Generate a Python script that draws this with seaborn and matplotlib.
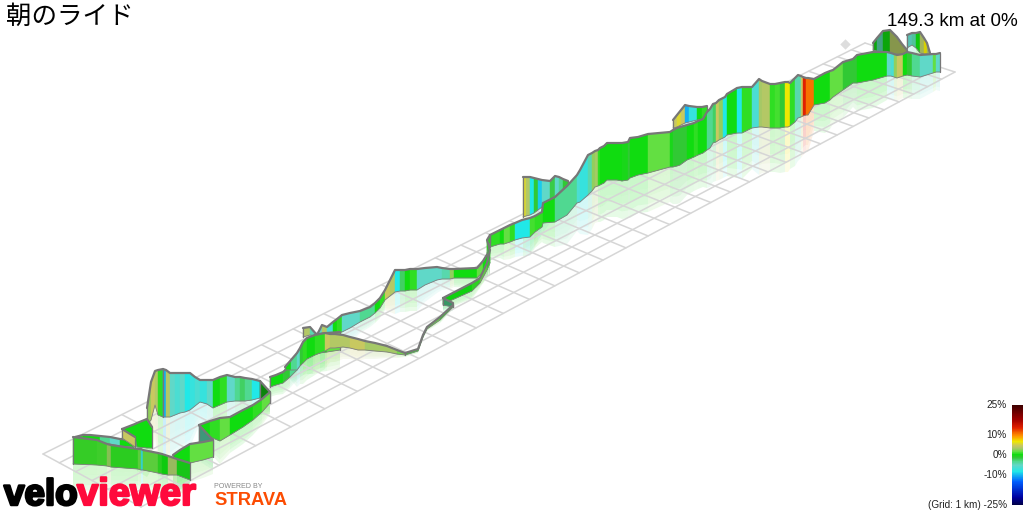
import numpy as np
import matplotlib
matplotlib.use('Agg')
import matplotlib.pyplot as plt
import matplotlib.patheffects as pe
from matplotlib.colors import LinearSegmentedColormap, to_rgb
import seaborn as sns

title = '朝のライド'
summary = '149.3 km at 0%'
scale_values = [25, 10, 0, -10]

# grid corners: left, near, right, far
grid_left = (43, 454)
grid_near = (141, 507)
grid_right = (955, 72)
grid_far = (865, 43)
grid_long = 35
grid_wide = 6
grid_depth = 1.75

# gradient colours, from the scale
grad_stops = [-25, -21, -13, -8, -5, -3, -1, 0.5, 2, 3.5, 5, 7, 10, 14, 18, 25]
grad_colors = ['#000040', '#0000a0', '#0060ff', '#20e8e8', '#60d8c8', '#50d890', '#30c830', '#10dc10',
               '#60e040', '#a8c868', '#c8c860', '#f0e800', '#ff9000', '#e02000', '#a00000', '#400000']

# walls in drawing order: x, top, bottom, gradient per stripe
up1_x = [873, 877, 883, 890, 897, 902, 907]
up1_top = [43, 38, 31, 30, 37, 44, 50]
up1_bot = [50, 51, 52, 53, 54, 55, 52]
up1_grad = [0.5, -4, 0.5, 4, 4, 4]

up2_x = [907, 912, 916, 920, 924, 927, 930]
up2_top = [35, 33, 33, 32, 38, 43, 53]
up2_bot = [48, 45, 48, 53, 54, 54, 55]
up2_grad = [-5, -4, 0.5, 4, 7, 4]

back1_x = [673, 677, 681, 685, 689, 697, 702, 707]
back1_top = [120, 115, 110, 105, 106, 107, 107, 106]
back1_bot = [128, 127, 125, 123, 122, 120, 119, 118]
back1_grad = [5, 6, 5, -10, -7, 0.5, 1]

back2_x = [523, 526, 530, 534, 538, 542, 550, 555, 559, 563, 568]
back2_top = [177, 177, 177, 178, 179, 180, 181, 176, 177, 179, 181]
back2_bot = [217, 216, 215, 213, 210, 207, 202, 197, 193, 189, 185]
back2_grad = [6, 4, -8, -1, -9, -5, -1.5, -5, -3, -1]

main_x = [490, 500, 504, 510, 515, 522, 530, 535, 542, 543, 555, 567, 577, 580, 588, 592, 595, 598, 600, 604, 607,
          617, 622, 628, 630, 638, 648, 670, 673, 677, 680, 687, 694, 698, 703, 707, 710, 713, 716, 719, 723, 725,
          727, 732, 737, 742, 752, 759, 762, 770, 775, 780, 785, 788, 790, 795, 798, 801, 803, 806, 808, 814, 825,
          830, 833, 843, 853, 857, 873, 887, 891, 894, 897, 903, 907, 912, 920, 933, 936, 940]
main_top = [235, 230, 228, 225, 223, 220, 218, 216, 212, 203, 197, 186, 175, 170, 155, 153, 151, 150, 148, 146, 143,
            143, 143, 142, 138, 137, 134, 132, 130, 128, 127, 125, 123, 121, 119, 112, 109, 104, 103, 100, 98, 97,
            94, 91, 88, 87, 87, 79, 81, 84, 84, 83, 82, 82, 83, 78, 75, 76, 77, 78, 78, 79, 73,
            71, 70, 62, 59, 55, 52, 52, 53, 54, 55, 54, 52, 53, 55, 54, 54, 53]
main_bot = [247, 244, 244, 242, 240, 238, 237, 232, 227, 223, 222, 215, 203, 202, 195, 191, 187, 186, 185, 183, 180,
            180, 181, 180, 178, 175, 173, 167, 167, 166, 165, 160, 157, 155, 153, 150, 148, 143, 142, 140, 138, 137,
            135, 134, 133, 133, 128, 127, 127, 128, 128, 128, 127, 127, 126, 122, 118, 117, 116, 115, 115, 105, 103,
            100, 97, 90, 83, 83, 80, 76, 76, 77, 78, 76, 75, 76, 77, 73, 72, 72]
main_grad = [1, 0.5, 2, 1, -8, -8, 1.5, 1, 1, 0.5, -3, -3, -6, -7, -4, 3, 3.5, 1, 0.5,
             0.5, 0.5, 0.5, 0, -1, 0.5, 0.5, 2, 0, -1, -1, -1, 0.5, 1, 0.5, 0.5,
             -3, -3, -2, 5, 3, -8, -8, 0.5, 0.5, -8, 1, -6, 3.5, 4, 1, 1.5, -1, 7, 7, 1, -4, -4,
             5, 14, 11, 11, 0.5, 0.5, 2, 2, -1, -1, 0.5, 0.5, -5, -6, 3, 5, 0.5, -1, -3, -5, 2, -5]

top_mid_x = [303, 310, 317, 322, 327, 333, 337, 342, 350, 360, 370, 375, 380, 385, 390, 395, 400, 405, 410, 417, 425, 437, 442, 450, 454, 477, 483, 488]
top_mid_top = [328, 327, 335, 325, 327, 322, 319, 315, 313, 311, 307, 303, 298, 290, 280, 270, 270, 270, 269, 269, 268, 267, 268, 269, 269, 268, 261, 253]
top_mid_bot = [337, 335, 336, 335, 333, 335, 333, 332, 328, 322, 317, 313, 308, 300, 296, 292, 291, 291, 290, 290, 285, 280, 279, 279, 278, 278, 272, 265]
top_mid_grad = [4, -4, -5, 4, -6, 0.5, 1, -5, -5, -3, -3, 0.5, 1, 5, 4, -8, -2, 0.5, 1, -5, -5, -5, -4, 3, 0.5, 2, 0.5]

low_mid_x = [443, 472, 480, 487, 490, 487, 490]
low_mid_top = [298, 283, 278, 263, 250, 240, 235]
low_mid_bot = [304, 291, 283, 270, 263, 253, 243]
low_mid_grad = [0.5, 1, 2, 1, -1, 1]

hook_x = [443, 453]
hook_top = [298, 303]
hook_bot = [305, 307]
hook_grad = [-3]

thin_x = [405, 418, 423, 427, 440, 453]
thin_top = [353, 349, 335, 327, 317, 305]
thin_bot = [355, 351, 337, 329, 320, 307]
thin_grad = [1, 1, 1, 2, 1]

ramp_x = [285, 291, 297, 300, 303, 307, 315, 325, 330, 335, 343, 350, 358, 365, 375, 387, 397, 405]
ramp_top = [367, 360, 353, 348, 342, 338, 335, 333, 334, 334, 335, 337, 339, 341, 343, 346, 350, 353]
ramp_bot = [370, 370, 370, 366, 363, 359, 355, 351, 348, 348, 347, 348, 350, 350, 351, 352, 354, 355]
ramp_grad = [0.5, -3, -5, -1, 1, 0.5, 1, 5, 4, 4, 4, 5, 5, 3.5, 3.5, 3.5, 2.5]

link_x = [270, 276, 283, 290, 297, 303, 307, 313, 320, 327, 340]
link_top = [377, 375, 372, 366, 360, 347, 340, 336, 334, 333, 332]
link_bot = [387, 385, 383, 377, 370, 361, 357, 355, 353, 352, 350]
link_grad = [0.5, 0.5, -1, -3, -5, 1, 0.5, 3, 0.5, 2]

far_left_x = [75, 83, 90, 100, 110, 120, 133]
far_left_top = [437, 435, 435, 436, 437, 439, 440]
far_left_bot = [438, 439, 441, 443, 444, 446, 447]
far_left_grad = [1, 0.5, 0.5, -3, -5, 0.5]

spine_x = [122, 135, 137, 147, 152]
spine_top = [429, 424, 423, 419, 427]
spine_bot = [429, 437, 447, 448, 448]
spine_grad = [0.5, 0.5, 0.5, 0.5]

spine_side_x = [122, 135]
spine_side_top = [429, 437]
spine_side_bot = [438, 447]
spine_side_grad = [5]

cliff_x = [147, 151, 155, 158, 163]
cliff_top = [408, 382, 371, 370, 369]
cliff_bot = [425, 420, 405, 415, 417]
cliff_grad = [3, 5, 4, 1]

bay_x = [163, 166, 170, 175, 180, 185, 190, 195, 200, 207, 213, 220, 227, 235, 240, 245, 252, 260]
bay_top = [369, 370, 373, 373, 373, 373, 373, 377, 380, 380, 380, 377, 375, 377, 377, 378, 379, 381]
bay_bot = [417, 417, 417, 415, 413, 412, 410, 406, 402, 404, 408, 405, 402, 401, 401, 401, 400, 398]
bay_grad = [-10, 4, -5, -6, -5, -8, -7, -6, -7, -5, 0.5, 1, -5, -3, -2, -3, -8]

side_x = [199, 213]
side_top = [425, 440]
side_bot = [443, 455]
side_grad = [-4]

corner_x = [260, 270]
corner_top = [381, 392]
corner_bot = [398, 403]
corner_grad = [0.5]

spur_x = [199, 210, 220, 230, 243, 253, 262, 270]
spur_top = [425, 421, 418, 417, 410, 405, 399, 392]
spur_bot = [426, 437, 441, 435, 427, 420, 412, 403]
spur_grad = [0.5, 1, 2, 0.5, 0.5, 1, 2]

tip_x = [173, 180, 190, 203, 213]
tip_top = [455, 450, 444, 442, 440]
tip_bot = [473, 470, 463, 460, 457]
tip_grad = [0.5, 0.5, 2, 2]

front_x = [73, 97, 107, 111, 138, 141, 143, 158, 162, 168, 177, 190]
front_top = [437, 440, 444, 445, 449, 449, 450, 453, 454, 456, 459, 463]
front_bot = [464, 465, 466, 467, 469, 470, 470, 473, 474, 475, 475, 480]
front_grad = [1.2, 1.5, 3, 1, 2, -7, 2, 1, 0.5, 3.5, 0]

walls = [
    (up1_x, up1_top, up1_bot, up1_grad, 0.75),
    (up2_x, up2_top, up2_bot, up2_grad, 0.9),
    (back1_x, back1_top, back1_bot, back1_grad, 1),
    (back2_x, back2_top, back2_bot, back2_grad, 1),
    (main_x, main_top, main_bot, main_grad, 1),
    (top_mid_x, top_mid_top, top_mid_bot, top_mid_grad, 1),
    (low_mid_x, low_mid_top, low_mid_bot, low_mid_grad, 0.95),
    (hook_x, hook_top, hook_bot, hook_grad, 0.7),
    (thin_x, thin_top, thin_bot, thin_grad, 1),
    (link_x, link_top, link_bot, link_grad, 1),
    (ramp_x, ramp_top, ramp_bot, ramp_grad, 1),
    (far_left_x, far_left_top, far_left_bot, far_left_grad, 1),
    (cliff_x, cliff_top, cliff_bot, cliff_grad, 1),
    (bay_x, bay_top, bay_bot, bay_grad, 1),
    (spine_x, spine_top, spine_bot, spine_grad, 1),
    (spine_side_x, spine_side_top, spine_side_bot, spine_side_grad, 1),
    (corner_x, corner_top, corner_bot, corner_grad, 0.6),
    (spur_x, spur_top, spur_bot, spur_grad, 1),
    (side_x, side_top, side_bot, side_grad, 0.7),
    (tip_x, tip_top, tip_bot, tip_grad, 1),
    (front_x, front_top, front_bot, front_grad, 0.92),
]

sns.set_theme(style='white')
plt.rcParams['font.family'] = ['Liberation Sans', 'Noto Sans CJK JP', 'DejaVu Sans']

stop_pos = [(s + 25) / 50 for s in grad_stops]
grad_cmap = LinearSegmentedColormap.from_list('grad', list(zip(stop_pos, grad_colors)))


def grad_color(g, shade=1):
    return tuple(c * shade for c in to_rgb(grad_cmap((g + 25) / 50)))


def along(p0, p1, t):
    # cells get smaller towards p1, like the perspective of the picture
    s = grid_depth * t / ((1 - t) + grid_depth * t)
    return p0[0] + (p1[0] - p0[0]) * s, p0[1] + (p1[1] - p0[1]) * s


def draw_grid(ax):
    for i in range(grid_long + 1):
        a = along(grid_left, grid_far, i / grid_long)
        b = along(grid_near, grid_right, i / grid_long)
        ax.plot([a[0], b[0]], [a[1], b[1]], color='#d6d6d6', lw=1.1, zorder=2.5)
    for j in range(grid_wide + 1):
        f = j / grid_wide
        a = (grid_left[0] + (grid_near[0] - grid_left[0]) * f, grid_left[1] + (grid_near[1] - grid_left[1]) * f)
        b = (grid_far[0] + (grid_right[0] - grid_far[0]) * f, grid_far[1] + (grid_right[1] - grid_far[1]) * f)
        ax.plot([a[0], b[0]], [a[1], b[1]], color='#d6d6d6', lw=1.1, zorder=2.5)


def draw_reflection(ax, x, top, bot, grad):
    x, top, bot = np.array(x, float), np.array(top, float), np.array(bot, float)
    h = bot - top
    fade = [0.22, 0.21, 0.2, 0.16, 0.1]
    for i, g in enumerate(grad):
        for k in range(5):
            a, b = k / 5, (k + 1) / 5
            ax.fill([x[i], x[i + 1], x[i + 1], x[i]],
                    [bot[i] + a * h[i], bot[i + 1] + a * h[i + 1], bot[i + 1] + b * h[i + 1], bot[i] + b * h[i]],
                    color=grad_color(g), alpha=fade[k], lw=0, zorder=2)


def draw_wall(ax, x, top, bot, grad, shade, z):
    for i, g in enumerate(grad):
        c = grad_color(g, shade)
        ax.fill([x[i], x[i + 1], x[i + 1], x[i]], [top[i], top[i + 1], bot[i + 1], bot[i]],
                facecolor=c, edgecolor=c, lw=0.3, zorder=z)
    ax.plot([x[0], x[0]], [top[0], bot[0]], color='#777777', lw=0.9, zorder=z + 0.1)
    ax.plot([x[-1], x[-1]], [top[-1], bot[-1]], color='#777777', lw=0.9, zorder=z + 0.1)
    sns.lineplot(x=x, y=bot, sort=False, estimator=None, color='#7d7d7d', lw=0.6, ax=ax, zorder=z + 0.1)
    sns.lineplot(x=x, y=top, sort=False, estimator=None, color='#777777', lw=1.6, ax=ax, zorder=z + 0.2)


fig = plt.figure(figsize=(10.24, 5.12), dpi=100)
ax = fig.add_axes([0, 0, 1, 1])
draw_grid(ax)
for w in walls:
    draw_reflection(ax, *w[:4])
for n, w in enumerate(walls):
    draw_wall(ax, *w, 3 + n)

ax.scatter([845], [44], s=28, marker='D', color='#dddddd', lw=0, zorder=2)
ax.set_xlim(0, 1024)
ax.set_ylim(512, 0)
ax.axis('off')

ax.text(6, 17, title, fontsize=18.4, family=['Noto Sans CJK JP', 'DejaVu Sans'], va='center', color='black', zorder=50)
ax.text(1018, 21, summary, fontsize=13.6, ha='right', va='center', color='black', zorder=50)

# gradient scale
ramp = np.arange(25, -25, -0.5).reshape(-1, 1)
cax = fig.add_axes([1012 / 1024, 1 - 505 / 512, 11 / 1024, 100 / 512])
sns.heatmap(ramp, ax=cax, cmap=grad_cmap, vmin=-25, vmax=25, cbar=False, xticklabels=False, yticklabels=False)
for v in scale_values:
    ax.text(1007, 455 - v * 2, f'{v}%', fontsize=7.2, ha='right', va='center', color='#222222', zorder=50)
ax.text(1007, 505, '(Grid: 1 km) -25%', fontsize=7.2, ha='right', va='center', color='#222222', zorder=50)

# logo
fat = [pe.withStroke(linewidth=1.8, foreground='black')]
ax.text(4, 505, 'velo', fontsize=26.5, weight='bold', color='black', va='baseline', zorder=50, path_effects=fat)
fat2 = [pe.withStroke(linewidth=1.6, foreground='#ff0a3c')]
ax.text(77, 505, 'viewer', fontsize=27.5, weight='bold', color='#ff0a3c', va='baseline', zorder=51, path_effects=fat2)
ax.text(214, 488, 'POWERED BY', fontsize=5.1, color='#888888', va='baseline', zorder=50)
ax.text(214, 505, 'STRAVA', fontsize=13.2, weight='bold', color='#fc4c02', va='baseline', zorder=50)

fig.savefig('out.png', dpi=100)
